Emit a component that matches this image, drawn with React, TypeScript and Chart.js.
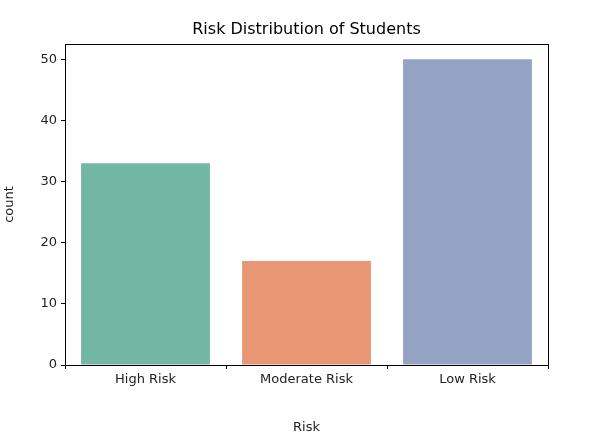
import { useEffect, useRef } from 'react'
import { Chart, registerables } from 'chart.js'

Chart.register(...registerables)

const categories = ['High Risk', 'Moderate Risk', 'Low Risk']
const counts = [33, 17, 50]
const barColors = ['#73b6a1', '#e99675', '#94a3c3']
const yTicks = [0, 10, 20, 30, 40, 50]

const FONT = "'DejaVu Sans', sans-serif"

const framePlugin = {
  id: 'frame',
  afterDraw(chart: any) {
    const { ctx, chartArea: a } = chart
    ctx.save()
    ctx.strokeStyle = '#000'
    ctx.lineWidth = 1
    ctx.strokeRect(a.left + 0.5, a.top + 0.5, a.right - a.left, a.bottom - a.top)
    ctx.fillStyle = '#000'
    ctx.font = `16px ${FONT}`
    ctx.textAlign = 'center'
    ctx.textBaseline = 'bottom'
    ctx.fillText('Risk Distribution of Students', (a.left + a.right) / 2, a.top - 6)
    ctx.restore()
  },
}

export default function App() {
  const canvasRef = useRef<HTMLCanvasElement>(null)

  useEffect(() => {
    if (!canvasRef.current) return
    const chart = new Chart(canvasRef.current, {
      type: 'bar',
      data: {
        labels: categories,
        datasets: [{ data: counts, backgroundColor: barColors, categoryPercentage: 0.8, barPercentage: 1 }],
      },
      options: {
        animation: false,
        responsive: false,
        layout: { padding: { top: 44, right: 68, left: 0, bottom: 0 } },
        plugins: { legend: { display: false }, tooltip: { enabled: false } },
        scales: {
          x: {
            grid: { drawOnChartArea: false, drawTicks: true, tickLength: 4, color: '#000' },
            border: { display: false },
            ticks: { color: '#222', font: { family: FONT, size: 13 }, padding: 3 },
            title: { display: true, text: 'Risk', color: '#222', font: { family: FONT, size: 13 }, padding: 0 },
            afterFit: (s: any) => { s.height = 70 },
          },
          y: {
            min: 0,
            max: 52.5,
            afterBuildTicks: (s: any) => { s.ticks = yTicks.map(v => ({ value: v })) },
            grid: { drawOnChartArea: false, drawTicks: true, tickLength: 4, color: '#000' },
            border: { display: false },
            ticks: { color: '#222', font: { family: FONT, size: 13 }, padding: 4 },
            title: { display: true, text: 'count', color: '#222', font: { family: FONT, size: 13 }, padding: 2 },
            afterFit: (s: any) => { s.width = 65 },
          },
        },
      },
      plugins: [framePlugin],
    })
    return () => chart.destroy()
  }, [])

  return (
    <div style={{ position: 'fixed', left: 0, top: 0, width: 616, height: 435, background: '#fff' }}>
      <canvas ref={canvasRef} width={616} height={435} />
    </div>
  )
}
